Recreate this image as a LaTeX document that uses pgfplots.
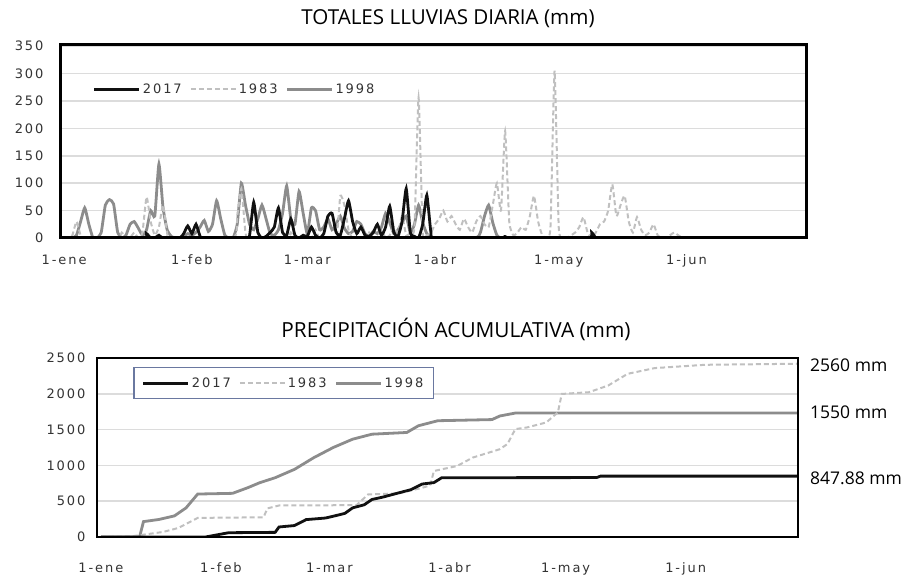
\documentclass[border=0pt]{standalone}
\usepackage{fontspec}
\setmainfont{DejaVu Sans}[LetterSpace=15]
\newfontfamily\titlefont{Open Sans}
\usepackage{pgfplots}
\pgfplotsset{compat=1.18}

\definecolor{c17}{HTML}{111111}
\definecolor{c83}{HTML}{C0C0C0}
\definecolor{c98}{HTML}{8C8C8C}
\definecolor{gridc}{HTML}{DCDCDC}
\definecolor{legbox}{HTML}{6A78A0}

\pgfplotsset{
  base/.style={
    scale only axis, anchor=south west,
    xmin=-1, xmax=180, ymin=0,
    axis line style={draw=none},
    ymajorgrids, grid style={gridc, line width=1.5pt},
    major tick length=0pt,
    xtick={0,31,59,90,120,151},
    xticklabels={1-ene,1-feb,1-mar,1-abr,1-may,1-jun},
    tick label style={font=\fontsize{13}{13}\selectfont, text=black!80},
    /pgf/number format/assume math mode=true,
    /pgf/number format/set thousands separator={},
    legend style={font=\fontsize{13}{13}\selectfont, text=black!80},
    legend image code/.code={\draw[#1] (0pt,0pt) -- (45pt,0pt);},
    reverse legend,
  },
  boxw/.style={after end axis/.code={\draw[black, line width=#1]
    (rel axis cs:0,0) rectangle (rel axis cs:1,1);}},
  s17/.style={c17, line width=2.8pt},
  s83/.style={c83, line width=2pt, dash pattern=on 5pt off 3pt},
  s98/.style={c98, line width=2.8pt},
}

\begin{document}
\begin{tikzpicture}
\useasboundingbox (0,0) rectangle (904pt,576pt);

% diario
\begin{axis}[base, boxw=3pt, at={(60pt,338pt)}, width=746pt, height=193pt,
  ymax=352, ytick={0,50,...,350},
  xticklabel style={yshift=-13pt}, yticklabel style={xshift=-13pt},
  legend columns=-1,
  legend style={at={(0.04,0.77)}, anchor=west, draw=none, fill=none,
    /tikz/every even column/.append style={column sep=6pt}},
]
\addplot[s98, smooth, tension=0.3] coordinates {
(0,0)(1,0)(2,0)(3,5)(4,30)(5,55)(6,25)(7,0)(8,0)(9,10)(10,60)(11,70)(12,62)(13,10)(14,0)
(15,5)(16,25)(17,30)(18,18)(19,5)(20,15)(21,50)(22,40)(23,135)(24,55)(25,15)(26,3)(27,0)
(28,0)(29,3)(30,8)(31,5)(32,10)(33,20)(34,32)(35,12)(36,25)(37,68)(38,35)(39,5)(40,0)
(41,0)(42,25)(43,100)(44,60)(45,25)(46,15)(47,35)(48,60)(49,35)(50,8)(51,5)(52,15)(53,45)
(54,95)(55,35)(56,25)(57,85)(58,45)(59,8)(60,55)(61,50)(62,15)(63,20)(64,35)(65,15)(66,25)
(67,40)(68,18)(69,8)(70,12)(71,30)(72,25)(73,8)(74,3)(75,12)(76,8)(77,20)(78,45)(79,28)
(80,8)(81,15)(82,28)(83,40)(84,10)(85,25)(86,60)(87,28)(88,8)(89,3)(90,0)(95,0)(100,0)
(101,10)(102,40)(103,60)(104,28)(105,5)(106,0)(110,0)};
\addlegendentry{1998}
\addplot[s83, smooth, tension=0.3] coordinates {
(0,0)(1,0)(2,5)(3,30)(4,5)(5,0)(13,0)(14,10)(15,0)(16,0)(17,10)(18,0)(19,10)(20,75)(21,30)
(22,5)(23,20)(24,60)(25,10)(26,0)(41,0)(42,40)(43,90)(44,10)(45,0)(54,0)(55,10)(56,0)(60,0)
(61,15)(62,0)(66,0)(67,77)(68,60)(69,15)(70,0)(73,0)(74,10)(75,0)(76,0)(77,15)(78,0)(79,5)
(80,20)(81,10)(82,40)(83,5)(84,10)(85,20)(86,256)(87,10)(88,5)(89,10)(90,25)(91,35)(92,50)
(93,30)(94,40)(95,25)(96,15)(97,35)(98,20)(99,10)(100,30)(101,40)(102,25)(103,20)(104,60)
(105,100)(106,50)(107,195)(108,30)(109,5)(110,10)(111,20)(112,15)(113,40)(114,77)(115,30)
(116,5)(117,0)(118,20)(119,305)(120,20)(121,0)(122,0)(123,5)(124,10)(125,20)(126,38)(127,10)
(128,0)(129,10)(130,25)(131,30)(132,50)(133,98)(134,40)(135,60)(136,77)(137,30)(138,10)
(139,38)(140,15)(141,5)(142,10)(143,25)(144,5)(145,0)(146,0)(147,5)(148,10)(149,5)(150,0)};
\addlegendentry{1983}
\addplot[s17, smooth, tension=0.3] coordinates {
(0,0)(19,0)(20,8)(21,0)(22,0)(23,5)(24,0)(28,0)(29,8)(30,22)(31,8)(32,25)(33,3)(34,0)(44,0)
(45,5)(46,65)(47,10)(48,0)(49,3)(50,10)(51,20)(52,55)(53,10)(54,5)(55,35)(56,5)(57,0)(58,5)
(59,3)(60,20)(61,5)(62,0)(63,8)(64,40)(65,45)(66,10)(67,5)(68,35)(69,68)(70,30)(71,8)(72,20)
(73,5)(74,3)(75,10)(76,25)(77,5)(78,20)(79,58)(80,10)(81,3)(82,30)(83,90)(84,10)(85,3)(86,0)
(87,25)(88,78)(89,10)(90,0)(106,0)(107,5)(108,0)(127,0)(128,10)(129,0)(130,0)};
\addlegendentry{2017}
\end{axis}

% acumulada
\begin{axis}[base, boxw=2.5pt, at={(97pt,39pt)}, width=701pt, height=179pt,
  ymax=2500, ytick={0,500,...,2500},
  xticklabel style={yshift=-22pt}, yticklabel style={xshift=-8pt},
  legend columns=-1,
  legend style={at={(0.052,0.95)}, anchor=north west, draw=legbox, line width=1.2pt,
    fill=white, inner xsep=8pt, inner ysep=8pt,
    /tikz/every even column/.append style={column sep=6pt}},
]
\addplot[s98] coordinates {
(0,0)(10,0)(11,215)(15,245)(19,295)(22,407)(25,600)(34,610)(38,690)(41,758)(45,828)(50,945)
(55,1109)(60,1250)(65,1366)(70,1436)(79,1460)(82,1554)(87,1624)(101,1640)(103,1690)(107,1731)
(180,1731)};
\addlegendentry{1998}
\addplot[s83] coordinates {
(0,0)(8,10)(12,40)(16,70)(20,126)(25,267)(42,275)(43,400)(46,440)(66,445)(69,594)(77,610)
(83,688)(85,720)(86,922)(92,992)(96,1109)(103,1226)(105,1300)(107,1507)(110,1530)(115,1600)
(118,1741)(119,1998)(126,2022)(131,2116)(136,2279)(143,2359)(156,2405)(180,2420)};
\addlegendentry{1983}
\addplot[s17] coordinates {
(0,0)(27,0)(30,30)(33,60)(45,65)(46,140)(50,160)(53,243)(58,265)(60,290)(63,330)(65,407)
(68,450)(70,524)(73,560)(77,618)(80,660)(83,740)(86,760)(88,828)(128,830)(129,850)(180,850)};
\addlegendentry{2017}
\end{axis}

\node[font=\titlefont\fontsize{20.6}{20.6}\selectfont] at (448pt,557pt) {TOTALES LLUVIAS DIARIA (mm)};
\node[font=\titlefont\fontsize{20.8}{20.8}\selectfont] at (456pt,247pt) {PRECIPITACIÓN ACUMULATIVA (mm)};
\node[font=\titlefont\fontsize{17.5}{17.5}\selectfont, anchor=west, inner sep=0pt] at (810pt,211pt) {2560 mm};
\node[font=\titlefont\fontsize{17.5}{17.5}\selectfont, anchor=west, inner sep=0pt] at (810pt,164pt) {1550 mm};
\node[font=\titlefont\fontsize{17.5}{17.5}\selectfont, anchor=west, inner sep=0pt] at (810pt,98pt) {847.88 mm};
\end{tikzpicture}
\end{document}
